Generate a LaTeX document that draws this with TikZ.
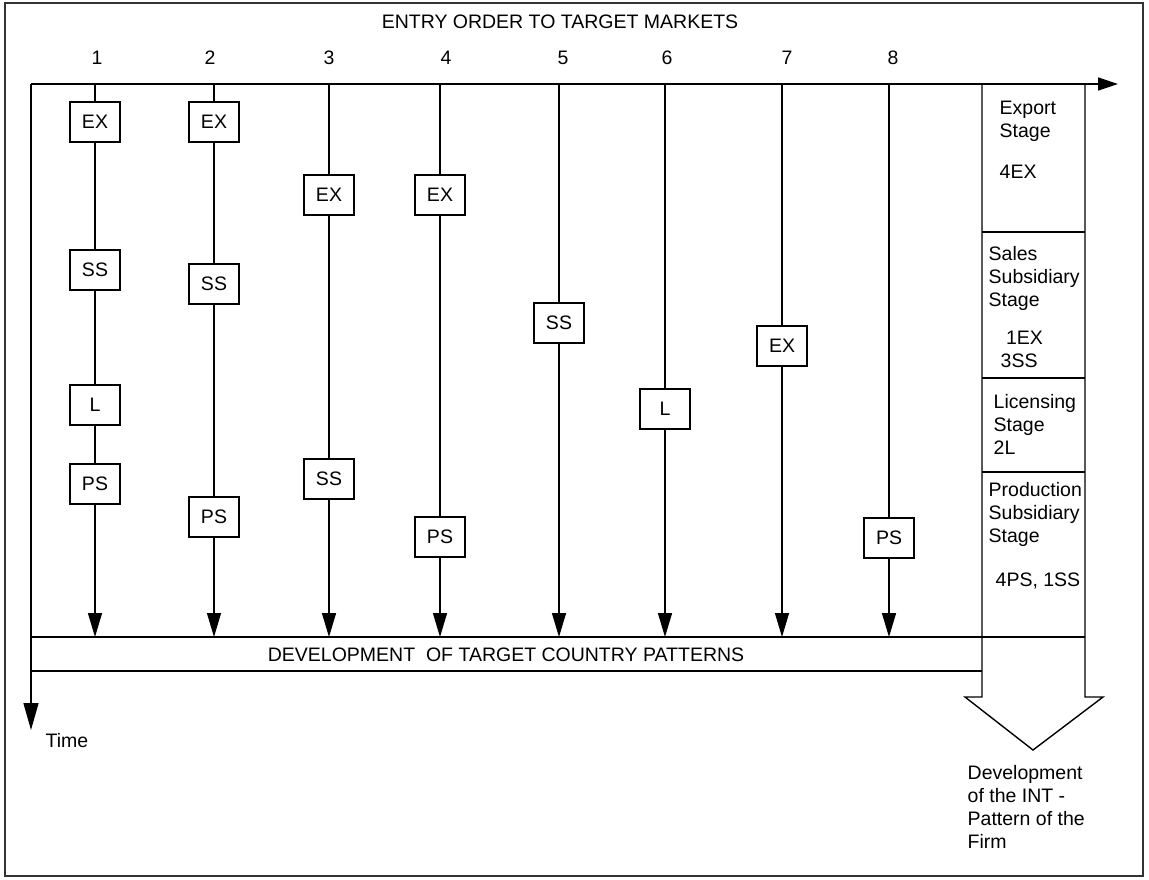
\documentclass[tikz,border=0pt]{standalone}
\usepackage{fontspec}
\setmainfont{Liberation Sans}
\usetikzlibrary{arrows.meta}
\begin{document}
\begin{tikzpicture}[x=1pt,y=-1pt, line width=1.4pt,
  stagebox/.style={draw, fill=white, minimum width=50pt, minimum height=40pt, inner sep=0pt, font=\fontsize{19.5}{23}\selectfont},
  lbl/.style={font=\fontsize{19.5}{23}\selectfont, inner sep=0pt},
  paneltxt/.style={font=\fontsize{19.5}{23}\selectfont, align=left, inner sep=0pt, anchor=north west},
  arr/.style={-{Triangle[length=24pt,width=14pt]}}]
\useasboundingbox (0,0) rectangle (1149,879);
\draw[line width=1.6pt, draw=black!80] (5,3) rectangle (1143,876);

% axes
\coordinate (O) at (31,84);
\coordinate (XE) at (1118,84);
\coordinate (TE) at (31,730);
\draw[-{Triangle[length=20pt,width=13pt]}] (O) -- (XE);
\draw[-{Triangle[length=27pt,width=15pt]}] (O) -- (TE);

\node[lbl] (title) at (560,22) {ENTRY ORDER TO TARGET MARKETS};
\node[lbl] (time) at (67,741) {Time};

\foreach \i/\x/\nx in {1/95/97,2/214/210,3/329/329,4/440/446,5/559/563,6/665/667,7/782/787,8/889/893} {
  \coordinate (t\i) at (\x,84);
  \coordinate (b\i) at (\x,637);
  \node[lbl] (n\i) at (\nx,58) {\i};
}

% column 1
\node[stagebox] (c1ex) at (95,122) {EX};
\node[stagebox] (c1ss) at (95,270) {SS};
\node[stagebox] (c1l)  at (95,405) {L};
\node[stagebox] (c1ps) at (95,484) {PS};
\draw (t1) -- (c1ex); \draw (c1ex) -- (c1ss); \draw (c1ss) -- (c1l); \draw (c1l) -- (c1ps);
\draw[arr] (c1ps) -- (b1);
% column 2
\node[stagebox] (c2ex) at (214,122) {EX};
\node[stagebox] (c2ss) at (214,284) {SS};
\node[stagebox] (c2ps) at (214,517) {PS};
\draw (t2) -- (c2ex); \draw (c2ex) -- (c2ss); \draw (c2ss) -- (c2ps);
\draw[arr] (c2ps) -- (b2);
% column 3
\node[stagebox] (c3ex) at (329,195) {EX};
\node[stagebox] (c3ss) at (329,479) {SS};
\draw (t3) -- (c3ex); \draw (c3ex) -- (c3ss);
\draw[arr] (c3ss) -- (b3);
% column 4
\node[stagebox] (c4ex) at (440,195) {EX};
\node[stagebox] (c4ps) at (440,537) {PS};
\draw (t4) -- (c4ex); \draw (c4ex) -- (c4ps);
\draw[arr] (c4ps) -- (b4);
% column 5
\node[stagebox] (c5ss) at (559,323) {SS};
\draw (t5) -- (c5ss);
\draw[arr] (c5ss) -- (b5);
% column 6
\node[stagebox] (c6l) at (665,409) {L};
\draw (t6) -- (c6l);
\draw[arr] (c6l) -- (b6);
% column 7
\node[stagebox] (c7ex) at (782,346) {EX};
\draw (t7) -- (c7ex);
\draw[arr] (c7ex) -- (b7);
% column 8
\node[stagebox] (c8ps) at (889,538) {PS};
\draw (t8) -- (c8ps);
\draw[arr] (c8ps) -- (b8);

% development band
\draw (31,637) -- (1085,637);
\draw (31,671) -- (982,671);
\node[lbl] (dev) at (506,655) {DEVELOPMENT\ \ OF TARGET COUNTRY PATTERNS};

% right panel with big arrow
\draw[line join=miter] (982,84) -- (982,697) -- (965,697) -- (1033,750) -- (1103,697) -- (1085,697) -- (1085,84);
\draw (982,232) -- (1085,232);
\draw (982,378) -- (1085,378);
\draw (982,472) -- (1085,472);

\node[paneltxt] (pex) at (999,100) {Export\\Stage};
\node[paneltxt] (pex2) at (999,164) {4EX};
\node[paneltxt] (pss) at (988,246) {Sales\\Subsidiary\\Stage};
\node[paneltxt] (pss2) at (1000,330) {\ 1EX\\3SS};
\node[paneltxt] (pl) at (993,394) {Licensing\\Stage\\2L};
\node[paneltxt] (pps) at (988,482) {Production\\Subsidiary\\Stage};
\node[paneltxt] (pps2) at (995,572) {4PS, 1SS};
\node[paneltxt] (pint) at (967,765) {Development\\of the INT -\\Pattern of the\\Firm};
\end{tikzpicture}
\end{document}
